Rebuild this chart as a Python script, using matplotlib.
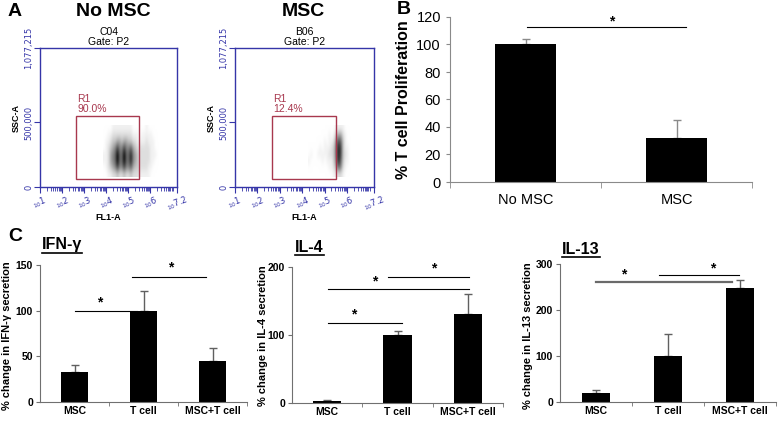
import numpy as np
import matplotlib
matplotlib.use('Agg')
import matplotlib.pyplot as plt
from matplotlib.patches import Rectangle
from matplotlib.lines import Line2D

# ---------------- data ----------------
# Panel A (flow cytometry): density grids read from the dot clouds
flow_titles = ['No MSC', 'MSC']
flow_wells = ['C04', 'B06']
flow_gate_pct = ['90.0%', '12.4%']
gate_logx = [2.65, 5.5]
gate_y = [62000, 554000]
# rows top (450k) -> bottom (100k), cols log10(FL1) 3.9 .. 6.3 step 0.1
nomsc_density = [
    [0, 0, 0, 0, 1, 1, 1, 1, 1, 1, 1, 1, 1, 0, 0, 0, 0, 0, 0, 1, 0, 0, 0, 0, 0],
    [0, 0, 1, 1, 2, 2, 2, 2, 2, 2, 2, 2, 2, 1, 1, 1, 0, 1, 1, 1, 1, 1, 0, 0, 0],
    [0, 1, 1, 2, 3, 3, 4, 4, 3, 4, 4, 3, 3, 2, 2, 1, 1, 1, 1, 2, 1, 1, 1, 0, 0],
    [0, 1, 2, 3, 4, 5, 7, 5, 5, 7, 5, 5, 6, 4, 3, 2, 2, 2, 2, 2, 2, 1, 1, 0, 0],
    [1, 1, 2, 4, 5, 6, 9, 6, 6, 9, 6, 6, 8, 5, 4, 3, 2, 2, 2, 2, 2, 1, 1, 1, 0],
    [1, 1, 2, 4, 5, 6, 9, 6, 6, 9, 6, 6, 8, 5, 4, 3, 2, 2, 2, 2, 2, 1, 1, 0, 0],
    [0, 1, 2, 3, 4, 5, 7, 5, 5, 7, 5, 5, 6, 4, 3, 3, 2, 2, 2, 2, 1, 1, 0, 0, 0],
    [0, 0, 1, 1, 2, 2, 3, 2, 2, 3, 2, 2, 3, 2, 2, 2, 1, 1, 1, 1, 1, 0, 0, 0, 0],
]
nomsc_extent = [3.85, 6.35, 75000, 475000]
# cols log10(FL1) 4.3 .. 6.1 step 0.1
msc_density = [
    [0, 0, 0, 0, 0, 0, 0, 0, 0, 0, 0, 0, 1, 1, 1, 1, 0, 0, 0],
    [0, 0, 0, 0, 0, 0, 0, 0, 0, 1, 0, 1, 3, 4, 4, 2, 1, 0, 0],
    [0, 0, 0, 0, 0, 0, 0, 1, 0, 1, 1, 2, 5, 7, 6, 3, 1, 0, 0],
    [0, 0, 0, 0, 0, 1, 0, 1, 1, 1, 2, 3, 6, 8, 7, 3, 1, 1, 0],
    [0, 1, 0, 0, 1, 1, 1, 1, 1, 2, 2, 3, 6, 8, 7, 3, 2, 1, 0],
    [1, 0, 0, 0, 0, 0, 1, 0, 1, 1, 1, 3, 5, 8, 6, 3, 1, 1, 0],
    [0, 0, 0, 0, 0, 0, 0, 0, 0, 1, 1, 2, 4, 6, 5, 2, 1, 0, 0],
    [0, 0, 0, 0, 0, 0, 0, 0, 0, 0, 0, 1, 1, 2, 2, 1, 0, 0, 0],
]
msc_extent = [4.25, 6.15, 75000, 475000]

# Panel B
b_cats = ['No MSC', 'MSC']
b_vals = [100, 32]
b_err = [4, 13]

# Panel C
c_cats = ['MSC', 'T cell', 'MSC+T cell']
ifn_vals = [33, 100, 45]
ifn_err = [7, 22, 14]
il4_vals = [3, 100, 131]
il4_err = [1, 6, 30]
il13_vals = [20, 100, 248]
il13_err = [6, 48, 18]
# significance brackets: (x_start, x_end, y_line, x_star, y_star, colour, width)
ifn_sig = [(0.0, 0.9, 100, 0.36, 109, 'black', 0.8),
           (0.84, 1.9, 137, 1.4, 147, 'black', 0.8)]
il4_sig = [(0.01, 1.07, 118, 0.38, 130, 'black', 0.8),
           (0.01, 2.01, 167, 0.67, 179, 'black', 0.8),
           (0.87, 2.01, 186, 1.51, 198, 'black', 0.8)]
il13_sig = [(0.0, 1.89, 260, 0.39, 277, '#6a6a6a', 1.6),
            (0.87, 1.98, 275, 1.62, 290, 'black', 0.8)]

# ---------------- figure ----------------
W, H = 778, 423
fig = plt.figure(figsize=(W / 100, H / 100), dpi=100)


def px_axes(l, t, r, b):
    return fig.add_axes([l / W, 1 - b / H, (r - l) / W, (b - t) / H])


def ftext(x, y, s, **kw):
    return fig.text(x / W, 1 - y / H, s, **kw)


BLUE = '#3535a8'
GATE = '#a8384e'
SANS = ['Liberation Sans', 'DejaVu Sans']

# ---------------- Panel A ----------------
flow_boxes = [(40, 48, 177, 187), (235, 48, 374, 187)]
densities = [nomsc_density, msc_density]
extents = [nomsc_extent, msc_extent]
title_x = [113, 303]
maj = [1, 2, 3, 4, 5, 6, 7.2]
maj_lab = [r'$_{10}$1', r'$_{10}$2', r'$_{10}$3', r'$_{10}$4', r'$_{10}$5',
           r'$_{10}$6', r'$_{10}$7.2']
minor = [d + np.log10(k) for d in range(1, 7) for k in range(2, 10)] + [7.0]

for i in range(2):
    ax = px_axes(*flow_boxes[i])
    ax.imshow(np.array(densities[i], dtype=float), extent=extents[i],
              cmap='Greys', vmin=0, vmax=9, interpolation='bicubic',
              aspect='auto', zorder=1)
    ax.set_xlim(1, 7.2)
    ax.set_ylim(0, 1077215)
    ax.add_patch(Rectangle((gate_logx[0], gate_y[0]), gate_logx[1] - gate_logx[0],
                           gate_y[1] - gate_y[0], fill=False, ec=GATE, lw=1.0, zorder=3))
    ax.text(gate_logx[0] + 0.05, gate_y[1] + 15000, 'R1\n' + flow_gate_pct[i],
            color=GATE, fontsize=7.5, ha='left', va='bottom', linespacing=0.9,
            family=SANS)
    for s in ax.spines.values():
        s.set_color(BLUE)
        s.set_linewidth(1.0)
    ax.set_xticks(maj)
    ax.set_xticklabels(maj_lab, rotation=20, fontsize=6, color=BLUE)
    ax.set_xticks(minor, minor=True)
    ax.set_yticks([0, 500000, 1077215])
    ax.set_yticklabels(['0', '500,000', '1,077,215'], rotation=90, va='center',
                       fontsize=6, color=BLUE)
    ax.tick_params(axis='both', which='major', direction='out', length=4,
                   color=BLUE, pad=1)
    ax.tick_params(axis='x', which='minor', direction='out', length=3, color=BLUE)
    ax.set_xlabel('FL1-A', fontsize=6.5, fontweight='bold', labelpad=0, family=SANS)
    ax.set_ylabel('SSC-A', fontsize=6.5, fontweight='bold', labelpad=2, family=SANS)
    ax.set_title(flow_wells[i] + '\nGate: P2', fontsize=7.5, pad=2,
                 linespacing=1.0, family=SANS)
    ftext(title_x[i], 11, flow_titles[i], fontsize=14, fontweight='bold',
          ha='center', va='center', family=SANS)

ftext(15, 11, 'A', fontsize=14, fontweight='bold', ha='center', va='center',
      family=SANS)

# ---------------- Panel B ----------------
axB = px_axes(450, 17, 752, 182)
xb = np.arange(len(b_cats))
axB.bar(xb, b_vals, width=0.4, color='black', zorder=2)
axB.errorbar(xb, b_vals, yerr=[np.zeros(len(b_vals)), b_err], fmt='none',
             ecolor='#8a8a8a', elinewidth=1, capsize=3, capthick=1, zorder=1)
axB.set_xlim(-0.5, 1.5)
axB.set_ylim(0, 120)
axB.set_yticks(range(0, 121, 20))
axB.set_xticks(xb)
axB.set_xticklabels(b_cats, fontsize=10.5, family=SANS)
axB.set_xticks([-0.5, 0.5, 1.5], minor=True)
axB.tick_params(axis='x', which='major', length=0, pad=8)
axB.tick_params(axis='x', which='minor', length=4, color='#8a8a8a')
axB.tick_params(axis='y', length=3, color='#8a8a8a', labelsize=10.5)
for lab in axB.get_yticklabels():
    lab.set_family(SANS)
for s in ['top', 'right']:
    axB.spines[s].set_visible(False)
for s in ['left', 'bottom']:
    axB.spines[s].set_color('#8a8a8a')
axB.set_ylabel('% T cell Proliferation', fontsize=11.5, fontweight='bold',
               family=SANS, labelpad=4)
axB.plot([0.01, 1.06], [112.7, 112.7], color='black', lw=0.8, clip_on=False)
axB.text(0.57, 117, '*', ha='center', va='center', fontsize=10,
         fontweight='bold', family=SANS)
ftext(404, 9, 'B', fontsize=14, fontweight='bold', ha='center', va='center',
      family=SANS)

# ---------------- Panel C ----------------
ftext(15, 236, 'C', fontsize=14, fontweight='bold', ha='center', va='center',
      family=SANS)

c_specs = [
    dict(box=(40, 265, 247, 402), vals=ifn_vals, err=ifn_err, sig=ifn_sig,
         ylim=150, yt=[0, 50, 100, 150], title='IFN-γ', tpos=(42, 245),
         ylab='% change in IFN-γ secretion', ylx=7),
    dict(box=(292, 267, 503, 403), vals=il4_vals, err=il4_err, sig=il4_sig,
         ylim=200, yt=[0, 100, 200], title='IL-4', tpos=(295, 247),
         ylab='% change in IL-4 secretion', ylx=263),
    dict(box=(560, 264, 776, 402), vals=il13_vals, err=il13_err, sig=il13_sig,
         ylim=300, yt=[0, 100, 200, 300], title='IL-13', tpos=(562, 249),
         ylab='% change in IL-13 secretion', ylx=528),
]

titles = []
for sp in c_specs:
    ax = px_axes(*sp['box'])
    xc = np.arange(len(c_cats))
    ax.bar(xc, sp['vals'], width=0.4, color='black', zorder=2)
    ax.errorbar(xc, sp['vals'], yerr=[np.zeros(len(xc)), sp['err']], fmt='none',
                ecolor='#606060', elinewidth=1, capsize=3, capthick=1, zorder=1)
    ax.set_xlim(-0.5, 2.5)
    ax.set_ylim(0, sp['ylim'])
    ax.set_yticks(sp['yt'])
    ax.set_xticks(xc)
    ax.set_xticklabels(c_cats, fontsize=7.5, fontweight='bold', family=SANS)
    ax.set_xticks([0.5, 1.5, 2.5], minor=True)
    ax.tick_params(axis='x', which='major', length=0, pad=3)
    ax.tick_params(axis='x', which='minor', length=3, color='#707070')
    ax.tick_params(axis='y', length=3, color='#707070', labelsize=7.5, pad=2)
    for lab in ax.get_yticklabels():
        lab.set_fontweight('bold')
        lab.set_family(SANS)
    for s in ['top', 'right']:
        ax.spines[s].set_visible(False)
    for s in ['left', 'bottom']:
        ax.spines[s].set_color('#707070')
    for (x0, x1, yl, xs, ys, col, lw) in sp['sig']:
        ax.plot([x0, x1], [yl, yl], color=col, lw=lw, clip_on=False)
        ax.text(xs, ys, '*', ha='center', va='center', fontsize=10,
                fontweight='bold', family=SANS)
    t = ftext(sp['tpos'][0], sp['tpos'][1], sp['title'], fontsize=11.5,
              fontweight='bold', ha='left', va='center', family=SANS)
    titles.append(t)
    ftext(sp['ylx'], 336, sp['ylab'], rotation=90, fontsize=8,
          fontweight='bold', ha='center', va='center', family=SANS)

# underline the cytokine titles
fig.canvas.draw()
r = fig.canvas.get_renderer()
for t in titles:
    bb = t.get_window_extent(r).transformed(fig.transFigure.inverted())
    fig.add_artist(Line2D([bb.x0, bb.x1], [bb.y0 - 0.002, bb.y0 - 0.002],
                          color='black', lw=1.2, transform=fig.transFigure))

fig.savefig('out.png', dpi=100)
